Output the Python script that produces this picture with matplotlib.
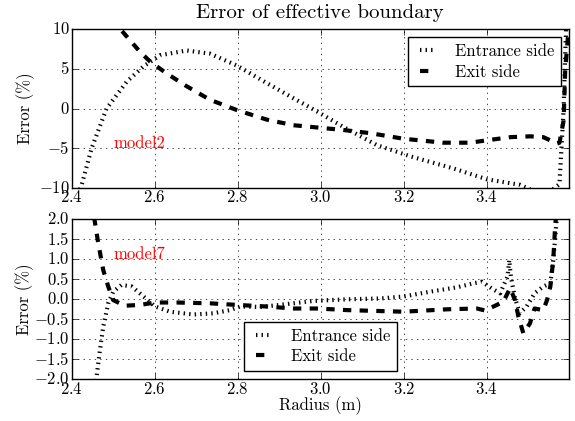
import matplotlib
matplotlib.use("Agg")
import matplotlib.pyplot as plt
import numpy as np

plt.style.use("classic")
plt.rcParams["font.family"] = ["cmr10", "DejaVu Serif"]
plt.rcParams["mathtext.fontset"] = "cm"
plt.rcParams["axes.formatter.use_mathtext"] = True
plt.rcParams["axes.unicode_minus"] = True

# model2: error of effective boundary (%) vs radius (m)
r2_entrance = [2.415, 2.424, 2.448, 2.484, 2.533, 2.573, 2.613, 2.677, 2.733, 2.798,
               2.870, 2.934, 2.982, 3.054, 3.135, 3.215, 3.317, 3.400, 3.480, 3.505,
               3.540, 3.575, 3.585, 3.592]
e2_entrance = [-10.8, -9.6, -5.0, 0.0, 3.4, 5.3, 6.7, 7.3, 6.9, 5.4,
               3.2, 1.3, -0.1, -2.3, -4.6, -6.0, -7.5, -8.9, -9.6, -10.2,
               -11.0, -9.5, 0.0, 12.0]
r2_exit = [2.500, 2.517, 2.565, 2.589, 2.629, 2.677, 2.733, 2.798, 2.870, 2.934,
           2.994, 3.054, 3.119, 3.199, 3.295, 3.360, 3.400, 3.457, 3.505, 3.536,
           3.569, 3.575, 3.585, 3.589, 3.597]
e2_exit = [11.5, 10.0, 7.1, 5.9, 4.4, 2.8, 1.1, -0.2, -1.4, -2.1,
           -2.4, -2.7, -3.1, -3.8, -4.3, -4.3, -4.0, -3.6, -3.5, -3.6,
           -4.4, -4.3, -1.5, 5.0, 10.0]

# model7
r7_entrance = [2.452, 2.460, 2.468, 2.476, 2.488, 2.500, 2.520, 2.545, 2.573, 2.601,
               2.637, 2.693, 2.741, 2.781, 2.806, 2.854, 2.902, 2.982, 3.063, 3.143,
               3.199, 3.263, 3.328, 3.368, 3.388, 3.412, 3.432, 3.450, 3.454, 3.458,
               3.467, 3.479, 3.496, 3.515, 3.536, 3.553, 3.556, 3.560, 3.565, 3.569]
e7_entrance = [-2.3, -1.93, -1.27, -0.68, -0.1, 0.19, 0.36, 0.32, 0.07, -0.18,
               -0.31, -0.38, -0.35, -0.27, -0.18, -0.19, -0.14, -0.04, 0.0, 0.02,
               0.07, 0.19, 0.30, 0.40, 0.44, 0.27, 0.15, 0.57, 0.98, 0.57,
               0.07, -0.35, -0.18, 0.15, 0.32, 0.40, 0.66, 0.98, 1.57, 2.1]
r7_exit = [2.454, 2.464, 2.476, 2.488, 2.500, 2.528, 2.565, 2.601, 2.653, 2.733,
           2.798, 2.870, 2.934, 2.994, 3.063, 3.199, 3.304, 3.376, 3.396, 3.416,
           3.440, 3.456, 3.468, 3.476, 3.488, 3.504, 3.515, 3.536, 3.545, 3.553,
           3.560, 3.565, 3.570]
e7_exit = [2.05, 1.4, 0.73, 0.32, -0.02, -0.16, -0.14, -0.08, -0.08, -0.10,
           -0.14, -0.18, -0.23, -0.23, -0.27, -0.31, -0.25, -0.23, -0.28, -0.18,
           -0.06, 0.28, -0.02, -0.43, -0.85, -0.6, -0.23, -0.27, -0.02, 0.32,
           0.98, 1.9, 2.3]

legend_kw = dict(fontsize=12, handlelength=1.4, handletextpad=1.0,
                 labelspacing=0.3, borderpad=0.4, borderaxespad=0.5)

fig = plt.figure(figsize=(5.75, 4.21), dpi=100)
fig.patch.set_facecolor("white")
ax1 = fig.add_axes([0.1247, 0.5534, 0.8649, 0.3777])
ax2 = fig.add_axes([0.1247, 0.0990, 0.8649, 0.3801])

ax1.plot(r2_entrance, e2_entrance, "k:", lw=3, label="Entrance side")
ax1.plot(r2_exit, e2_exit, "k--", lw=3, label="Exit side")
ax1.set_xlim(2.4, 3.598)
ax1.set_ylim(-10, 10)
ax1.set_yticks([-10, -5, 0, 5, 10])
ax1.set_ylabel("Error (%)", fontsize=12, labelpad=3)
ax1.set_title("Error of effective boundary", fontsize=15, pad=8)
ax1.text(2.5, -5, "model2", color="red", fontsize=12)
ax1.grid(True)
ax1.legend(loc="upper right", **legend_kw)

ax2.plot(r7_entrance, e7_entrance, "k:", lw=3, label="Entrance side")
ax2.plot(r7_exit, e7_exit, "k--", lw=3, label="Exit side")
ax2.set_xlim(2.4, 3.598)
ax2.set_ylim(-2, 2)
ax2.set_yticks(np.arange(-2.0, 2.01, 0.5))
ax2.set_ylabel("Error (%)", fontsize=12, labelpad=0)
ax2.set_xlabel("Radius (m)", fontsize=12, labelpad=0)
ax2.text(2.5, 1.0, "model7", color="red", fontsize=12)
ax2.grid(True)
ax2.legend(loc="lower center", **legend_kw)

for ax in (ax1, ax2):
    ax.set_xticks([2.4, 2.6, 2.8, 3.0, 3.2, 3.4])
    ax.tick_params(labelsize=12)
    ax.tick_params(axis="x", pad=1)
    ax.tick_params(axis="y", pad=1.5)

fig.savefig("out.png", dpi=100)
